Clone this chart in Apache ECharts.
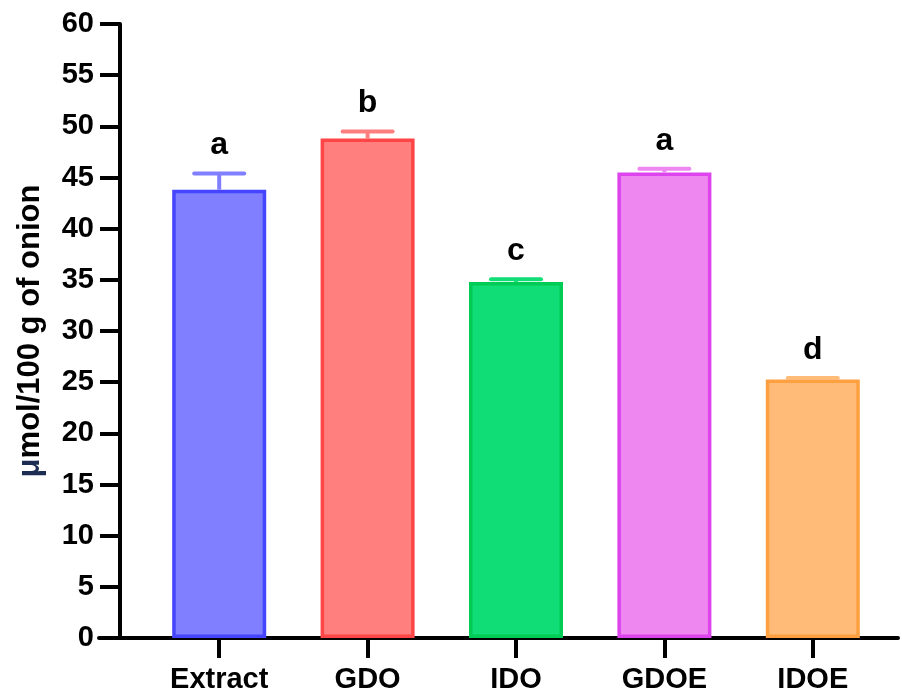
<!DOCTYPE html>
<html>
<head>
<meta charset="utf-8">
<script src="https://cdn.jsdelivr.net/npm/echarts@6/dist/echarts.min.js"></script>
<style>html,body{margin:0;padding:0;background:#fff}#c{width:902px;height:695px}</style>
</head>
<body>
<div id="c"></div>
<script>
const categories = ['Extract', 'GDO', 'IDO', 'GDOE', 'IDOE'];
const means = [43.8, 48.8, 34.8, 45.5, 25.25];
const errors = [1.6, 0.7, 0.25, 0.35, 0.15];
const letters = ['a', 'b', 'c', 'a', 'd'];
const yTicks = { min: 0, max: 60, interval: 5 };

const fills = ['#7f7fff', '#ff7f7f', '#11dd77', '#ee88f0', '#ffbb77'];
const borders = ['#4545ff', '#ff4545', '#00cc55', '#dd44ee', '#ffa040'];

const FONT = "'Liberation Sans', Arial, sans-serif";
const chart = echarts.init(document.getElementById('c'), null, { renderer: 'canvas' });

chart.setOption({
  animation: false,
  backgroundColor: '#fff',
  grid: [
    { left: 145, right: 15, top: 24, bottom: 57 },
    { left: 99, right: 4, top: 24, bottom: 57 }
  ],
  xAxis: [
    {
      type: 'category', data: categories, gridIndex: 0,
      axisLine: { show: false },
      axisTick: { show: true, alignWithLabel: true, length: 20, lineStyle: { width: 4, color: '#000' } },
      axisLabel: { color: '#000', fontSize: 29, fontWeight: 'bold', fontFamily: FONT, margin: 27 }
    },
    {
      type: 'value', gridIndex: 1, min: 0, max: 1,
      axisLine: { show: true, lineStyle: { width: 4, color: '#000' } },
      axisTick: { show: false }, axisLabel: { show: false }, splitLine: { show: false }
    }
  ],
  yAxis: [
    {
      type: 'value', gridIndex: 0, min: yTicks.min, max: yTicks.max, interval: yTicks.interval,
      offset: 25,
      axisLine: { show: true, lineStyle: { width: 4, color: '#000' } },
      axisTick: { show: true, length: 20, lineStyle: { width: 4, color: '#000' } },
      splitLine: { show: false },
      axisLabel: { color: '#000', fontSize: 29, fontWeight: 'bold', fontFamily: FONT, margin: 26 },
      name: '{mu|μ}mol/100 g of onion',
      nameLocation: 'middle', nameGap: 74,
      nameTextStyle: {
        color: '#000', fontSize: 31, fontWeight: 'bold', fontFamily: FONT,
        rich: { mu: { color: '#1c2c52', fontSize: 31, fontWeight: 'bold', fontFamily: FONT } }
      }
    },
    { type: 'value', gridIndex: 1, min: 0, max: 60, show: false }
  ],
  series: [
    {
      type: 'bar', xAxisIndex: 0, yAxisIndex: 0, barWidth: 94,
      data: means.map((v, i) => ({
        value: v,
        itemStyle: { color: fills[i], borderColor: borders[i], borderWidth: 3.5 }
      }))
    },
    {
      type: 'custom', xAxisIndex: 0, yAxisIndex: 0, z: 5,
      data: means.map((v, i) => [i, v, v + errors[i]]),
      renderItem: function (params, api) {
        const i = api.value(0);
        const top = api.coord([i, api.value(1)]);
        const cap = api.coord([i, api.value(2)]);
        const hw = 25;
        const col = fills[i];
        return {
          type: 'group',
          children: [
            { type: 'line', shape: { x1: top[0], y1: top[1], x2: cap[0], y2: cap[1] }, style: { stroke: col, lineWidth: 4 } },
            { type: 'line', shape: { x1: cap[0] - hw, y1: cap[1], x2: cap[0] + hw, y2: cap[1] }, style: { stroke: col, lineWidth: 4, lineCap: 'round' } },
            { type: 'text', style: { text: letters[i], x: cap[0], y: cap[1] - 12, align: 'center', verticalAlign: 'bottom', fill: '#000', font: "bold 32px " + FONT } }
          ]
        };
      }
    }
  ]
});
</script>
</body>
</html>
